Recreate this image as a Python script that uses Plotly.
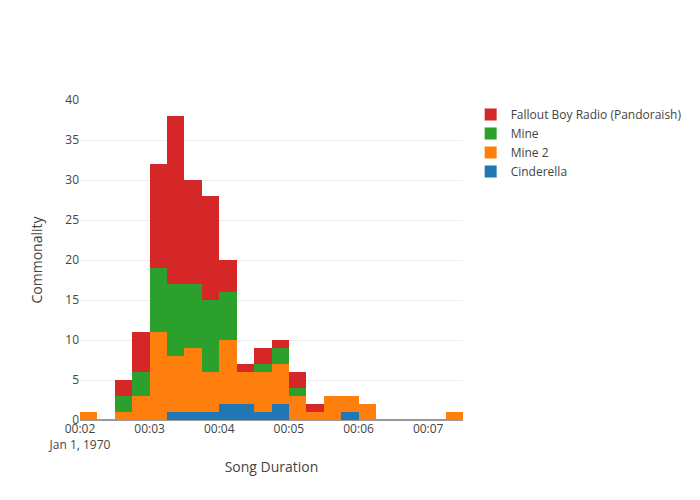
import plotly.graph_objects as go

# Bin starts (15-second bins), as durations since epoch
bin_starts = ["00:02:00", "00:02:15", "00:02:30", "00:02:45", "00:03:00", "00:03:15",
              "00:03:30", "00:03:45", "00:04:00", "00:04:15", "00:04:30", "00:04:45",
              "00:05:00", "00:05:15", "00:05:30", "00:05:45", "00:06:00", "00:06:15",
              "00:06:30", "00:06:45", "00:07:00", "00:07:15"]

cinderella = [0, 0, 0, 0, 0, 1, 1, 1, 2, 2, 1, 2, 0, 0, 0, 1, 0, 0, 0, 0, 0, 0]
mine2      = [1, 0, 1, 3, 11, 7, 8, 5, 8, 4, 5, 5, 3, 1, 3, 2, 2, 0, 0, 0, 0, 1]
mine       = [0, 0, 2, 3, 8, 9, 8, 9, 6, 0, 1, 2, 1, 0, 0, 0, 0, 0, 0, 0, 0, 0]
fallout    = [0, 0, 2, 5, 13, 21, 13, 13, 4, 1, 2, 1, 2, 1, 0, 0, 0, 0, 0, 0, 0, 0]

series = [
    ("Cinderella", cinderella, "#1f77b4"),
    ("Mine 2", mine2, "#ff7f0e"),
    ("Mine", mine, "#2ca02c"),
    ("Fallout Boy Radio (Pandoraish)", fallout, "#d62728"),
]

x = ["1970-01-01 " + s for s in bin_starts]
bin_ms = 15000

fig = go.Figure()
for name, vals, color in series:
    fig.add_trace(go.Bar(
        x=x, y=vals, name=name, width=bin_ms, offset=0,
        marker=dict(color=color, line=dict(width=0)),
    ))

fig.update_layout(
    template="none",
    width=700, height=500,
    barmode="stack", bargap=0,
    font=dict(family="Open Sans, verdana, arial, sans-serif", color="#444", size=12),
    margin=dict(l=72, r=245, t=92, b=88, autoexpand=False),
    xaxis=dict(
        type="date",
        title=dict(text="Song Duration"),
        range=["1970-01-01 00:02:00", "1970-01-01 00:07:30"],
        showgrid=False, zeroline=False, showline=False, ticks="",
    ),
    yaxis=dict(
        title=dict(text="Commonality"),
        range=[0, 40], dtick=5,
        gridcolor="#eee", zeroline=True, zerolinecolor="#999", zerolinewidth=2,
        showline=False, ticks="",
    ),
    legend=dict(traceorder="reversed"),
    plot_bgcolor="white", paper_bgcolor="white",
)

fig.write_html("out.html")
